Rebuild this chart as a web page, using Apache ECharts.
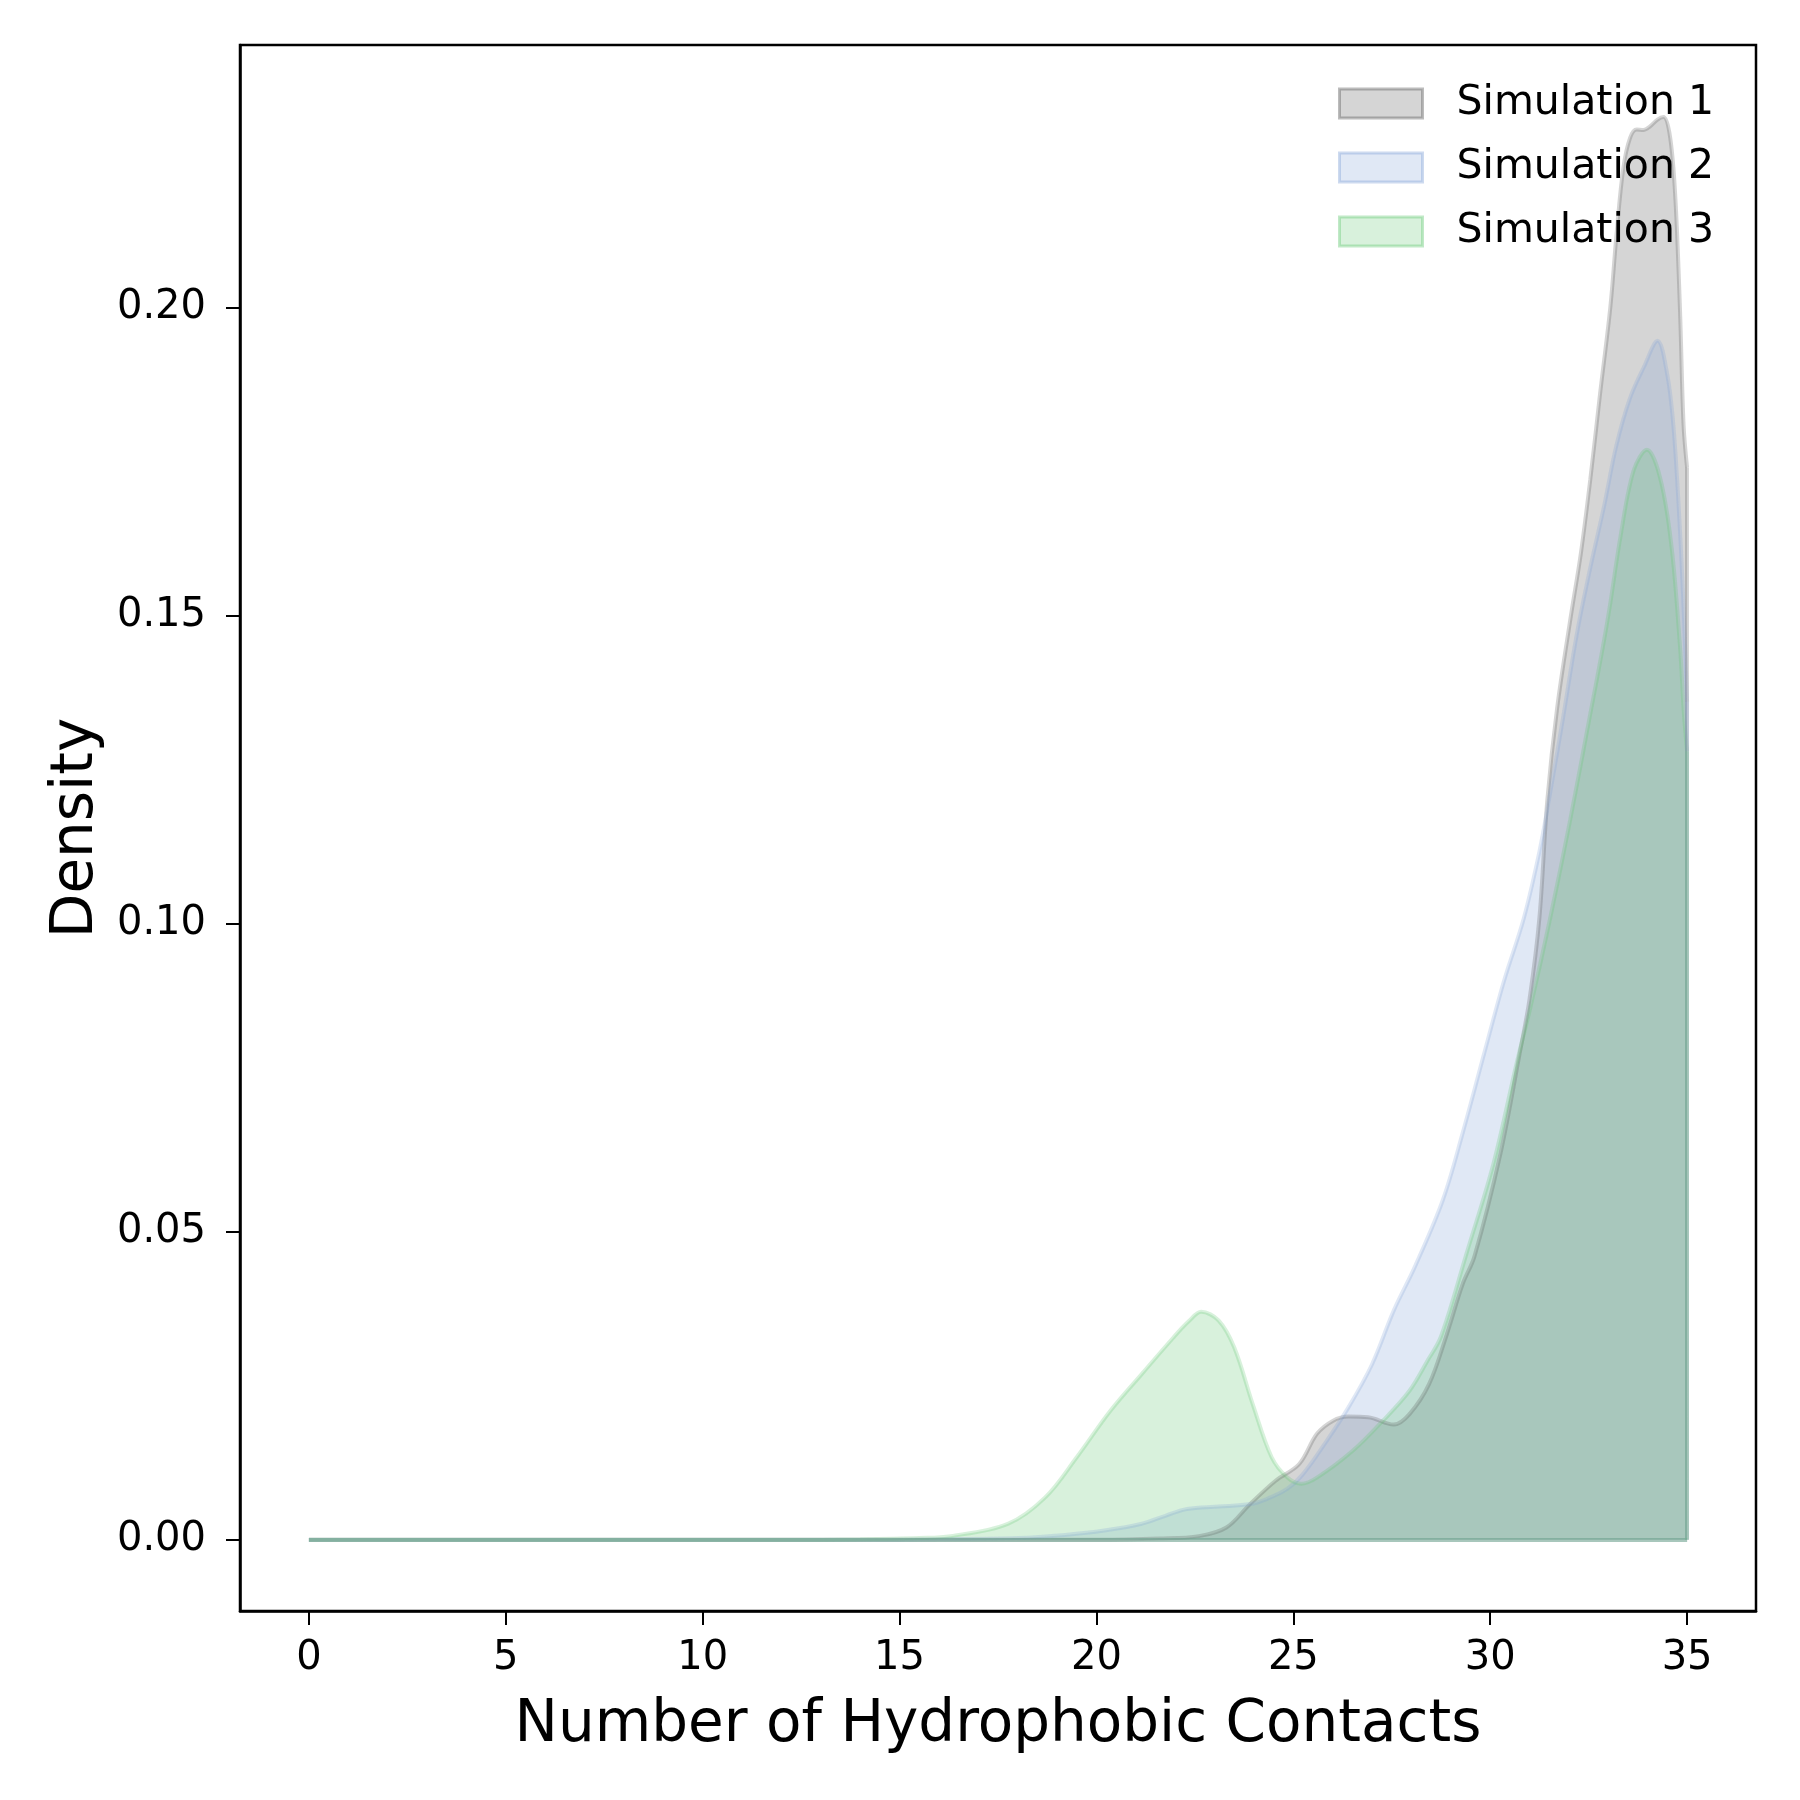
<!DOCTYPE html>
<html>
<head>
<meta charset="utf-8">
<script src="https://cdn.jsdelivr.net/npm/echarts@6/dist/echarts.min.js"></script>
<style>
  html, body { margin: 0; padding: 0; background: #fff; }
  #chart { width: 1800px; height: 1800px; }
</style>
</head>
<body>
<div id="chart"></div>
<script>
// tick labels
const xTicks = [0, 5, 10, 15, 20, 25, 30, 35];
const yTicks = [0, 0.05, 0.10, 0.15, 0.20];

// Simulation 1 (gray)
const sim1X = [0, 20, 21.6, 22.6, 23.3, 23.9, 24.55, 25.15, 25.6, 26.0, 26.4, 26.9, 27.55, 27.95,
  28.45, 28.9, 29.3, 29.6, 30.25, 30.75, 31.0, 31.25, 31.45, 31.7, 32.05, 32.3, 32.54,
  32.79, 33.05, 33.21, 33.38, 33.55, 33.72, 33.89, 34.06, 34.25, 34.4, 34.57, 34.7, 34.82, 34.91, 35];
const sim1Y = [0, 0, 0.0002, 0.0006, 0.002, 0.0058, 0.0096, 0.0123, 0.0172, 0.0193, 0.0200, 0.0199, 0.0187, 0.0204,
  0.0253, 0.0334, 0.0415, 0.046, 0.0624, 0.079, 0.0878, 0.101, 0.120, 0.135, 0.150, 0.160, 0.172,
  0.186, 0.2, 0.212, 0.2226, 0.2275, 0.2289, 0.2288, 0.2294, 0.2305, 0.2309, 0.2276, 0.218, 0.1996, 0.181, 0.174];

// Simulation 2 (blue)
const sim2X = [0, 14, 16, 18, 19.2, 20.2, 21.15, 21.75, 22.3, 23.1, 23.9, 24.35, 24.85, 25.25, 25.8,
  26.4, 27.0, 27.55, 28.1, 28.8, 29.3, 29.85, 30.35, 30.85, 31.25, 31.5, 31.85, 32.2, 32.55, 32.9,
  33.2, 33.55, 33.9, 34.25, 34.5, 34.65, 34.78, 34.9, 35];
const sim2Y = [0, 0, 0.0001, 0.0003, 0.0008, 0.0015, 0.0026, 0.0039, 0.005, 0.0054, 0.0058, 0.0067, 0.0083, 0.0107, 0.0156,
  0.0215, 0.0285, 0.0372, 0.0445, 0.0552, 0.066, 0.079, 0.0907, 0.1008, 0.1117, 0.1204, 0.1334, 0.147, 0.158, 0.168,
  0.1775, 0.1853, 0.1903, 0.1946, 0.189, 0.181, 0.1685, 0.153, 0.136];

// Simulation 3 (green)
const sim3X = [0, 12, 14, 15.5, 16.3, 17.75, 18.7, 19.5, 20.35, 21.15, 21.95, 22.35, 22.66, 23.1, 23.5,
  23.97, 24.45, 24.85, 25.2, 25.6, 26.5, 27.27, 27.95, 28.4, 28.75, 29.4, 30.08, 30.68, 31.02, 31.52,
  32.03, 32.54, 32.85, 33.05, 33.3, 33.64, 33.98, 34.31, 34.6, 34.82, 34.92, 35];
const sim3Y = [0, 0, 0.0001, 0.0003, 0.0006, 0.0026, 0.0069, 0.0134, 0.0209, 0.0269, 0.0328, 0.0355, 0.0370, 0.0356, 0.0312,
  0.022, 0.0134, 0.0101, 0.0091, 0.0101, 0.0144, 0.0193, 0.0242, 0.029, 0.033, 0.0465, 0.061, 0.0776, 0.0864, 0.1008,
  0.1168, 0.134, 0.1445, 0.152, 0.1625, 0.1735, 0.1769, 0.1725, 0.1615, 0.145, 0.134, 0.128];

const names = ['Simulation 1', 'Simulation 2', 'Simulation 3'];
const baseColors = [[87, 87, 87], [131, 163, 215], [99, 199, 115]];
const alpha = 0.25;

const rgba = (c, a) => 'rgba(' + c.join(',') + ',' + a + ')';
const pairs = (xs, ys) => xs.map((x, i) => [x, ys[i]]);

const sims = [pairs(sim1X, sim1Y), pairs(sim2X, sim2Y), pairs(sim3X, sim3Y)];
const font = 'DejaVu Sans';

var myChart = echarts.init(document.getElementById('chart'), null, {renderer: 'canvas'});
myChart.setOption({
    animation: false,
    textStyle: {fontFamily: font},
    grid: {
        left: 240, top: 45, right: 44, bottom: 189,
        show: true, borderColor: '#000', borderWidth: 2.5, backgroundColor: 'transparent'
    },
    legend: {
        orient: 'vertical',
        left: 1333,
        top: 78,
        icon: 'rect',
        itemWidth: 83,
        itemHeight: 29,
        itemGap: 23,
        textStyle: {fontSize: 41, color: '#000', fontFamily: font, lineHeight: 40, padding: [0, 0, 0, 29]},
        data: names.map((n, i) => ({
            name: n,
            itemStyle: {color: rgba(baseColors[i], alpha), borderColor: rgba(baseColors[i], 0.4), borderWidth: 3}
        }))
    },
    xAxis: {
        type: 'value',
        min: -1.75,
        max: 36.75,
        name: 'Number of Hydrophobic Contacts',
        nameLocation: 'middle',
        nameGap: 86,
        nameTextStyle: {fontSize: 58, color: '#000', fontFamily: font},
        axisLine: {show: true, onZero: false, lineStyle: {color: '#000', width: 2.5}},
        axisTick: {show: true, customValues: xTicks, length: 14, lineStyle: {color: '#000', width: 2}},
        axisLabel: {customValues: xTicks, fontSize: 40, color: '#000', margin: 28, fontFamily: font},
        splitLine: {show: false}
    },
    yAxis: {
        type: 'value',
        min: -0.01155,
        max: 0.2426,
        name: 'Density',
        nameLocation: 'middle',
        nameGap: 130,
        nameTextStyle: {fontSize: 58, color: '#000', fontFamily: font},
        axisLine: {show: true, onZero: false, lineStyle: {color: '#000', width: 2.5}},
        axisTick: {show: true, customValues: yTicks, length: 14, lineStyle: {color: '#000', width: 2}},
        axisLabel: {customValues: yTicks, fontSize: 40, color: '#000', margin: 34, fontFamily: font,
            formatter: v => v.toFixed(2)},
        splitLine: {show: false}
    },
    series: sims.map((d, i) => ({
        name: names[i],
        type: 'line',
        data: d,
        smooth: 0.35,
        showSymbol: false,
        symbol: 'none',
        color: rgba(baseColors[i], 1),
        lineStyle: {width: 4, color: rgba(baseColors[i], alpha)},
        areaStyle: {color: rgba(baseColors[i], alpha), opacity: 1, origin: 0},
        markLine: {
            silent: true,
            symbol: 'none',
            label: {show: false},
            lineStyle: {type: 'solid', width: 4, color: rgba(baseColors[i], alpha)},
            data: [
                [{coord: [d[d.length - 1][0], 0]}, {coord: d[d.length - 1]}],
                [{coord: [d[0][0], 0]}, {coord: [d[d.length - 1][0], 0]}]
            ]
        }
    }))
});
</script>
</body>
</html>
